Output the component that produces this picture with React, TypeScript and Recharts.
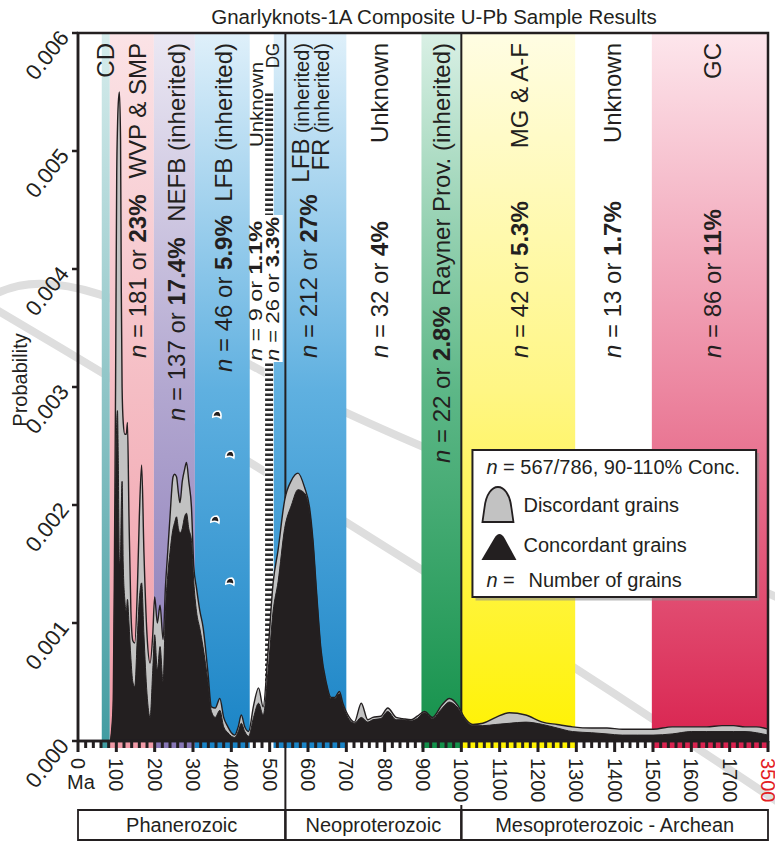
import React from "react";
import {
  ComposedChart,
  Area,
  XAxis,
  YAxis,
  ReferenceArea,
  ReferenceLine,
} from "recharts";

const FONT = "'Liberation Sans', Arial, Helvetica, sans-serif";
const INK = "#231f20";
const RED = "#e31e24";

// sample ages (Ma) of the probability density curves
const ages = [
  60, 83, 88, 92, 95, 98, 101, 103, 105, 108,
  111, 113, 115, 118, 122, 126, 129, 133, 138, 143,
  148, 155, 160, 166, 172, 180, 188, 195, 200, 207,
  214, 222, 228, 234, 240, 248, 252, 257, 262, 266,
  272, 278, 283, 289, 296, 302, 309, 318, 326, 339,
  348, 358, 370, 380, 391, 400, 409, 418, 426, 435,
  445, 458, 471, 483, 496, 509, 522, 539, 557, 574,
  591, 604, 613, 622, 634, 648, 660, 670, 682, 691,
  708, 721, 739, 756, 769, 790, 808, 830, 847, 869,
  885, 904, 925, 948, 969, 991, 1008, 1030, 1056, 1090,
  1125, 1168, 1212, 1250, 1290, 1340, 1380, 1420, 1460, 1500,
  1550, 1600, 1640, 1680, 1710, 1740, 1770, 1800,
];

// all grains (concordant + discordant)
const allGrains = [
  0, 0, 0.0001, 0.00035, 0.0015, 0.003, 0.0048, 0.0052, 0.0054, 0.0055,
  0.0051, 0.0038, 0.003, 0.0027, 0.0026, 0.0026, 0.0027, 0.0019, 0.0011, 0.00085,
  0.00083, 0.0013, 0.0019, 0.00234, 0.0016, 0.0009, 0.00066, 0.0009, 0.00122, 0.001,
  0.00115, 0.00086, 0.0013, 0.0016, 0.0019, 0.00224, 0.00226, 0.00224, 0.0021, 0.00202,
  0.0022, 0.0023, 0.00236, 0.0022, 0.00198, 0.00148, 0.0013, 0.0011, 0.00097, 0.00058,
  0.00029, 0.00028, 0.00036, 0.0002, 0.00012, 0.00007, 0.00005, 0.00012, 0.00022, 0.00012,
  0.00008, 0.0003, 0.00045, 0.00029, 0.00077, 0.00134, 0.00162, 0.00204, 0.00221, 0.00227,
  0.00215, 0.00198, 0.0017, 0.00128, 0.00077, 0.00049, 0.00037, 0.00037, 0.00042, 0.00032,
  0.0002, 0.00016, 0.00032, 0.00018, 0.0002, 0.00021, 0.00028, 0.0002, 0.00019, 0.00018,
  0.00021, 0.00025, 0.0002, 0.0003, 0.00036, 0.0003, 0.0002, 0.00014, 0.00015, 0.0002,
  0.00024, 0.00022, 0.00016, 0.00014, 0.00012, 0.00011, 0.00011, 0.0001, 0.0001, 0.0001,
  0.00012, 0.00012, 0.00012, 0.00013, 0.00013, 0.00012, 0.00012, 0.0001,
];

// concordant grains only
const concordantGrains = [
  0, 0, 0.00008, 0.0003, 0.0012, 0.0021, 0.0027, 0.0028, 0.0024, 0.0015,
  0.0016, 0.002, 0.0022, 0.0015, 0.0012, 0.0011, 0.0012, 0.001, 0.0007, 0.0005,
  0.00046, 0.0009, 0.0012, 0.00134, 0.0009, 0.0004, 0.0002, 0.0006, 0.0009, 0.0006,
  0.0008, 0.0005, 0.0011, 0.0014, 0.0016, 0.0018, 0.00185, 0.0019, 0.0018, 0.00176,
  0.0018, 0.0019, 0.00193, 0.0018, 0.0017, 0.00135, 0.0011, 0.00095, 0.0008, 0.0005,
  0.00025, 0.0002, 0.00026, 0.00012, 0.00007, 0.00004, 0.00003, 0.00008, 0.00015, 0.00008,
  0.00004, 0.0002, 0.00032, 0.00022, 0.0006, 0.0011, 0.00135, 0.0018, 0.002, 0.00213,
  0.0021, 0.00195, 0.00168, 0.00126, 0.00076, 0.00048, 0.00036, 0.00036, 0.0004, 0.0003,
  0.00018, 0.00015, 0.0002, 0.00016, 0.00018, 0.00019, 0.00025, 0.00018, 0.00018, 0.00017,
  0.00019, 0.00024, 0.00019, 0.00027, 0.00033, 0.00028, 0.00019, 0.00013, 0.00013, 0.00014,
  0.00015, 0.00016, 0.00014, 0.00011, 0.00008, 0.00007, 0.00006, 0.00005, 0.00005, 0.00005,
  0.00006, 0.00008, 0.00008, 0.00008, 0.00008, 0.00008, 0.00007, 0.00005,
];

const data = ages.map((age, i) => ({
  age,
  all: allGrains[i],
  conc: concordantGrains[i],
}));

const AGE_MAX = 1800;
const P_MAX = 0.006;
const yTicks = [0, 0.001, 0.002, 0.003, 0.004, 0.005, 0.006];
const xTicks = Array.from({ length: AGE_MAX / 20 + 1 }, (_, i) => i * 20);
// the last slot of the axis is a break up to 3500 Ma
const xTickText: Record<number, string> = { 1800: "3500" };

// source provinces (age ranges in Ma)
const provinces = [
  { key: "cd", from: 62, to: 83 },
  { key: "wvp", from: 83, to: 198 },
  { key: "nefb", from: 198, to: 305 },
  { key: "lfb", from: 305, to: 448 },
  { key: "lfb", from: 510, to: 700 },
  { key: "rayner", from: 896, to: 1000 },
  { key: "mg", from: 1000, to: 1297 },
  { key: "gc", from: 1497, to: 1800 },
];
const dgRange = [487, 510];

const eons = [
  { name: "Phanerozoic", from: 0, to: 541 },
  { name: "Neoproterozoic", from: 541, to: 1000 },
  { name: "Mesoproterozoic - Archean", from: 1000, to: 1800 },
];

const provinceNames = [
  { text: "CD" },
  { text: "WVP & SMP" },
  { text: "NEFB (inherited)" },
  { text: "LFB (inherited)" },
  { text: "LFB", sub: "(inherited)" },
  { text: "FR", sub: "(inherited)" },
  { text: "Unknown" },
  { text: "Rayner Prov. (inherited)" },
  { text: "MG & A-F" },
  { text: "Unknown" },
  { text: "GC" },
];
const smallNames = ["Unknown", "DG"];

const grainCounts = [
  { n: 181, pct: "23%" },
  { n: 137, pct: "17.4%" },
  { n: 46, pct: "5.9%" },
  { n: 9, pct: "1.1%" },
  { n: 26, pct: "3.3%" },
  { n: 212, pct: "27%" },
  { n: 32, pct: "4%" },
  { n: 22, pct: "2.8%" },
  { n: 42, pct: "5.3%" },
  { n: 13, pct: "1.7%" },
  { n: 86, pct: "11%" },
];

// ---- layout / style ----
const bandColours: Record<string, string[]> = {
  cd: ["#d6ecec", "#8fc5c7", "#419ca1"],
  wvp: ["#fbe3e6", "#f5bdc4", "#f09aa6"],
  nefb: ["#ebe8f3", "#b2a7d0", "#8676b5"],
  lfb: ["#dff0fa", "#5fb0e0", "#1a84c6"],
  rayner: ["#d9f0e5", "#5db787", "#13914a"],
  mg: ["#fffde3", "#fff684", "#fff200"],
  gc: ["#fde6ec", "#ec86a0", "#d9234f"],
};
const nameSlots = [72, 156, 257, 378, 581, 633, 787, 948, 1151, 1394, 1654];
const smallNameSlots = [
  { at: 466, top: 29, len: 85 },
  { at: 507, top: 10, len: 25 },
];
const countSlots = [
  { at: 156, base: 325 },
  { at: 257, base: 388 },
  { at: 378, base: 339 },
  { at: 464, base: 328, len: 140 },
  { at: 508, base: 328, len: 144 },
  { at: 602, base: 325 },
  { at: 787, base: 325 },
  { at: 948, base: 430 },
  { at: 1151, base: 325 },
  { at: 1394, base: 325 },
  { at: 1654, base: 325 },
];
const blobs = [
  { at: 362, dy: 382 },
  { at: 396, dy: 422 },
  { at: 357, dy: 487 },
  { at: 396, dy: 549 },
];

const NAME_SIZE = 24;
const COUNT_SIZE = 24;
const SMALL_SIZE = 18;

const Vertical = ({ cx, cy, anchor, size, len, children }: any) => (
  <text
    transform={`translate(${cx},${cy}) rotate(-90)`}
    y={size * 0.36}
    textAnchor={anchor}
    fontSize={size}
    textLength={len}
    lengthAdjust={len ? "spacingAndGlyphs" : undefined}
  >
    {children}
  </text>
);

const Overlay = ({ viewBox }: any) => {
  const { x, y, width } = viewBox;
  const px = (age: number) => x + (age / AGE_MAX) * width;
  return (
    <g fontFamily={FONT} fill={INK}>
      <text x={x + 356} y={y - 9} textAnchor="middle" fontSize={20.5}>
        Gnarlyknots-1A Composite U-Pb Sample Results
      </text>
      <text
        transform={`translate(${x - 58},${y + 347}) rotate(-90)`}
        y={7}
        textAnchor="middle"
        fontSize={20}
      >
        Probability
      </text>

      <rect x={px(456)} y={y + 182} width={px(534) - px(456)} height={147} fill="#fff" />

      {provinceNames.map((p, i) => (
        <Vertical key={`nm${i}`} cx={px(nameSlots[i])} cy={y + 10} anchor="end" size={NAME_SIZE}>
          {p.text}
          {p.sub && <tspan fontSize={20}> {p.sub}</tspan>}
        </Vertical>
      ))}
      {smallNames.map((t, i) => (
        <Vertical
          key={`sn${i}`}
          cx={px(smallNameSlots[i].at)}
          cy={y + smallNameSlots[i].top}
          anchor="end"
          size={SMALL_SIZE}
          len={smallNameSlots[i].len}
        >
          {t}
        </Vertical>
      ))}
      {grainCounts.map((c, i) => {
        const slot = countSlots[i];
        return (
          <Vertical
            key={`ct${i}`}
            cx={px(slot.at)}
            cy={y + slot.base}
            anchor="start"
            size={slot.len ? SMALL_SIZE : COUNT_SIZE}
            len={slot.len}
          >
            <tspan fontStyle="italic">n</tspan> = {c.n} or{" "}
            <tspan fontWeight="bold">{c.pct}</tspan>
          </Vertical>
        );
      })}

      {blobs.map((b, i) => (
        <path
          key={`bl${i}`}
          transform={`translate(${px(b.at)},${y + b.dy})`}
          d="M-4,2 Q-4,-4 2,-4 Q5,-2 4,3 Q1,0 -4,2 Z"
          fill={INK}
          stroke="#fff"
          strokeWidth={1.6}
        />
      ))}
    </g>
  );
};

const LegendBox = ({ viewBox }: any) => {
  const { x, y } = viewBox;
  return (
    <g fontFamily={FONT} fill={INK} fontSize={20}>
      <text x={x + 14} y={y + 24}>
        <tspan fontStyle="italic">n</tspan> = 567/786, 90-110% Conc.
      </text>
      <path
        d={`M${x + 10},${y + 72} L${x + 12},${y + 58} C${x + 15},${y + 30} ${x + 36},${y + 30} ${x + 39},${y + 58} L${x + 41},${y + 72} Z`}
        fill="#c2c2c2"
        stroke={INK}
        strokeWidth={1.8}
      />
      <text x={x + 51} y={y + 62}>Discordant grains</text>
      <path
        d={`M${x + 9},${y + 110} L${x + 22},${y + 88} Q${x + 27},${y + 80} ${x + 32},${y + 88} L${x + 44},${y + 110} Z`}
        fill={INK}
      />
      <text x={x + 51} y={y + 102}>Concordant grains</text>
      <text x={x + 14} y={y + 137}>
        <tspan fontStyle="italic">n</tspan> =
        <tspan x={x + 56}>Number of grains</tspan>
      </text>
    </g>
  );
};

const EonLabel = ({ viewBox, value }: any) => (
  <text
    x={viewBox.x + viewBox.width / 2}
    y={viewBox.y + viewBox.height / 2 + 7}
    textAnchor="middle"
    fontFamily={FONT}
    fontSize={20}
    fill={INK}
  >
    {value}
  </text>
);

const XTick = (props: any) => {
  const { x, y, payload } = props;
  const v = payload.value;
  const major = v % 100 === 0;
  return (
    <g fontFamily={FONT}>
      <rect x={x - 1.5} y={y} width={3} height={major ? 11 : 7} fill={INK} />
      {major && (
        <text
          transform={`translate(${x},${y + 17}) rotate(90)`}
          y={7}
          textAnchor="start"
          fontSize={20}
          fill={v === AGE_MAX ? RED : INK}
        >
          {xTickText[v] ?? String(v)}
        </text>
      )}
      {v === 0 && (
        <text x={x + 3} y={y + 48} textAnchor="middle" fontSize={20} fill={INK}>
          Ma
        </text>
      )}
    </g>
  );
};

const YTick = (props: any) => {
  const { x, y, payload } = props;
  return (
    <g fontFamily={FONT}>
      <line x1={x - 6} x2={x} y1={y} y2={y} stroke={INK} strokeWidth={2.5} />
      <text
        transform={`translate(${x - 8},${y + 5}) rotate(-52)`}
        textAnchor="end"
        fontSize={22}
        fill={INK}
      >
        {payload.value.toFixed(3)}
      </text>
    </g>
  );
};

// pixel size of one probability unit, used to place boxes below the axis
const PX_PER_P = 708 / P_MAX;
const below = (px: number) => -px / PX_PER_P;

export default function App() {
  return (
    <div style={{ position: "absolute", left: 0, top: 0, width: 775, height: 841 }}>
      <svg
        width={775}
        height={841}
        style={{ position: "absolute", left: 0, top: 0 }}
      >
        <g fill="none" stroke="#dedede" strokeWidth={8} strokeLinecap="round">
          <path d="M-20,300 Q380,535 790,810" />
          <path d="M-10,297 C50,262 130,300 260,370 S560,500 790,603" />
        </g>
      </svg>
      <ComposedChart
        width={775}
        height={841}
        data={data}
        margin={{ top: 33, right: 7, bottom: 0, left: 0 }}
        style={{ position: "relative" }}
      >
        <defs>
          {Object.entries(bandColours).map(([key, c]) => (
            <linearGradient key={key} id={`band-${key}`} x1="0" y1="0" x2="0" y2="1">
              <stop offset="0%" stopColor={c[0]} />
              <stop offset="50%" stopColor={c[1]} />
              <stop offset="100%" stopColor={c[2]} />
            </linearGradient>
          ))}
        </defs>
        <XAxis
          type="number"
          dataKey="age"
          domain={[0, AGE_MAX]}
          ticks={xTicks}
          interval={0}
          tick={XTick}
          tickLine={false}
          tickSize={0}
          tickMargin={0}
          axisLine={{ stroke: INK, strokeWidth: 2.5 }}
          height={100}
        />
        <YAxis
          type="number"
          domain={[0, P_MAX]}
          ticks={yTicks}
          interval={0}
          tick={YTick}
          tickLine={false}
          tickSize={0}
          tickMargin={0}
          axisLine={{ stroke: INK, strokeWidth: 2.5 }}
          width={78}
        />

        {provinces.map((p, i) => (
          <ReferenceArea
            key={`band${i}`}
            x1={p.from}
            x2={p.to}
            y1={below(7)}
            y2={P_MAX}
            fill={`url(#band-${p.key})`}
            fillOpacity={1}
            stroke="none"
            ifOverflow="visible"
            zIndex={-20}
          />
        ))}
        <ReferenceArea
          x1={dgRange[0]}
          x2={dgRange[1]}
          y1={0}
          y2={P_MAX}
          fill="#fff"
          fillOpacity={1}
          stroke="none"
          zIndex={-20}
        />
        <ReferenceLine
          segment={[
            { x: (dgRange[0] + dgRange[1]) / 2, y: 0 },
            { x: (dgRange[0] + dgRange[1]) / 2, y: 0.0055 },
          ]}
          stroke="#2b2b2b"
          strokeWidth={8}
          strokeDasharray="2.5 2.5"
          zIndex={-10}
        />
        <ReferenceLine
          segment={[
            { x: 541, y: P_MAX },
            { x: 541, y: below(99) },
          ]}
          stroke={INK}
          strokeWidth={2}
          ifOverflow="visible"
          zIndex={-5}
        />
        <ReferenceLine
          segment={[
            { x: 1000, y: P_MAX },
            { x: 1000, y: 0 },
          ]}
          stroke={INK}
          strokeWidth={2}
          zIndex={-5}
        />
        <ReferenceLine
          segment={[
            { x: 1000, y: below(64) },
            { x: 1000, y: below(99) },
          ]}
          stroke={INK}
          strokeWidth={2}
          ifOverflow="visible"
          zIndex={-5}
        />

        <Area
          type="monotone"
          dataKey="all"
          stroke={INK}
          strokeWidth={1.4}
          fill="#c2c2c2"
          fillOpacity={1}
          dot={false}
          activeDot={false}
          isAnimationActive={false}
        />
        <Area
          type="monotone"
          dataKey="conc"
          stroke={INK}
          strokeWidth={1}
          fill={INK}
          fillOpacity={1}
          dot={false}
          activeDot={false}
          isAnimationActive={false}
        />

        {eons.map((e) => (
          <ReferenceArea
            key={e.name}
            x1={e.from}
            x2={e.to}
            y1={below(99)}
            y2={below(69)}
            fill="none"
            stroke={INK}
            strokeWidth={1.8}
            ifOverflow="visible"
            label={<EonLabel value={e.name} />}
          />
        ))}

        <ReferenceArea
          x1={1037}
          x2={1777}
          y1={0.00119}
          y2={0.00244}
          fill="#8f8f8f"
          fillOpacity={0.6}
          stroke="none"
        />
        <ReferenceArea
          x1={1029}
          x2={1769}
          y1={0.00122}
          y2={0.002466}
          fill="#fff"
          fillOpacity={1}
          stroke={INK}
          strokeWidth={2}
          label={LegendBox}
        />

        <ReferenceArea
          x1={0}
          x2={AGE_MAX}
          y1={0}
          y2={P_MAX}
          fill="none"
          stroke={INK}
          strokeWidth={2.5}
          label={Overlay}
          zIndex={1500}
        />
      </ComposedChart>
    </div>
  );
}
